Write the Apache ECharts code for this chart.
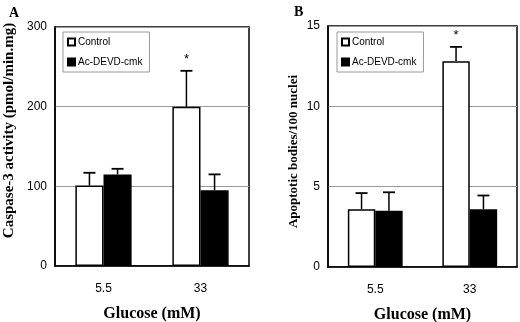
<!DOCTYPE html>
<html>
<head>
<meta charset="utf-8">
<script src="https://cdn.jsdelivr.net/npm/echarts@6/dist/echarts.min.js"></script>
<style>
  html, body { margin: 0; padding: 0; background: #fff; }
  #chart { width: 520px; height: 322px; }
</style>
</head>
<body>
<div id="chart"></div>
<script>
const categories = ['5.5', '33']

// panel A: caspase-3 activity (pmol/min.mg)
const caspaseControl = [101, 200]
const caspaseControlErr = [16, 45]
const caspaseInhib = [115, 95]
const caspaseInhibErr = [7, 20]

// panel B: apoptotic bodies / 100 nuclei
const apoptControl = [3.6, 12.8]
const apoptControlErr = [1.0, 0.9]
const apoptInhib = [3.5, 3.6]
const apoptInhibErr = [1.15, 0.85]

// significance marks over the control bars
const signifA = ['', '*']
const signifB = ['', '*']

const serif = 'Liberation Serif'
const sans = 'Liberation Sans'
const BAR_FRAC = 0.29

function errorSeries(idx, means, errs, side) {
  return {
    type: 'custom',
    xAxisIndex: idx,
    yAxisIndex: idx,
    silent: true,
    z: 1,
    data: means.map((m, i) => [i, m, m + errs[i]]),
    renderItem(params, api) {
      const band = api.size([1, 0])[0]
      const shift = side * band * BAR_FRAC / 2
      const base = api.coord([api.value(0), api.value(1)])
      const top = api.coord([api.value(0), api.value(2)])
      const x = base[0] + shift
      const cap = 6
      return {
        type: 'group',
        children: [
          { type: 'line', shape: { x1: x, y1: base[1], x2: x, y2: top[1] }, style: { stroke: '#000', lineWidth: 1.5 } },
          { type: 'line', shape: { x1: x - cap, y1: top[1], x2: x + cap, y2: top[1] }, style: { stroke: '#000', lineWidth: 1.8 } }
        ]
      }
    }
  }
}

function markSeries(idx, means, errs, marks, side) {
  return {
    type: 'custom',
    xAxisIndex: idx,
    yAxisIndex: idx,
    silent: true,
    data: means.map((m, i) => [i, m + errs[i], marks[i]]),
    renderItem(params, api) {
      const band = api.size([1, 0])[0]
      const shift = side * band * BAR_FRAC / 2
      const p = api.coord([api.value(0), api.value(1)])
      return {
        type: 'text',
        style: {
          text: marks[params.dataIndex],
          x: p[0] + shift,
          y: p[1] - 5,
          align: 'center',
          verticalAlign: 'bottom',
          font: '13px ' + sans,
          fill: '#000'
        }
      }
    }
  }
}

function barSeries(idx, name, data, filled) {
  return {
    name,
    type: 'bar',
    xAxisIndex: idx,
    yAxisIndex: idx,
    data,
    barWidth: (BAR_FRAC * 100) + '%',
    barGap: '0%',
    z: 2,
    itemStyle: {
      color: filled ? '#000' : '#fff',
      borderColor: '#000',
      borderWidth: 1.5
    }
  }
}

function yAxisFor(idx, max, interval, name, size, gap, pad) {
  return {
    type: 'value',
    gridIndex: idx,
    min: 0,
    max,
    interval,
    name,
    nameLocation: 'middle',
    nameGap: gap,
    nameTextStyle: { fontFamily: serif, fontWeight: 'bold', fontSize: size, color: '#000', padding: pad },
    axisLine: { show: true, lineStyle: { color: '#000', width: 1.5 } },
    axisTick: { show: false },
    axisLabel: { color: '#000', fontFamily: sans, fontSize: 12, margin: 8 },
    splitLine: { lineStyle: { color: '#9a9a9a', width: 1 } }
  }
}

function xAxisFor(idx) {
  return {
    type: 'category',
    gridIndex: idx,
    data: categories,
    name: 'Glucose (mM)',
    nameLocation: 'middle',
    nameGap: 40,
    nameTextStyle: { fontFamily: serif, fontWeight: 'bold', fontSize: 16, color: '#000' },
    axisLine: { lineStyle: { color: '#000', width: 1.5 } },
    axisTick: { show: false },
    axisLabel: { color: '#000', fontFamily: sans, fontSize: 12, margin: 17 }
  }
}

function legendAt(left, top) {
  return {
    left,
    top,
    orient: 'vertical',
    data: ['Control', 'Ac-DEVD-cmk'],
    icon: 'rect',
    itemWidth: 7,
    itemHeight: 7,
    itemGap: 10,
    padding: [5, 7, 5, 4],
    borderColor: '#999',
    borderWidth: 1,
    selectedMode: false,
    textStyle: { fontFamily: sans, fontSize: 10, color: '#000', padding: [0, 0, 0, -2] }
  }
}

const chart = echarts.init(document.getElementById('chart'))

chart.setOption({
  animation: false,
  backgroundColor: '#fff',
  title: [
    { text: 'A', left: 4, top: 1, textStyle: { fontFamily: serif, fontWeight: 'bold', fontSize: 14, color: '#000' } },
    { text: 'B', left: 289, top: 0, textStyle: { fontFamily: serif, fontWeight: 'bold', fontSize: 14, color: '#000' } }
  ],
  legend: [legendAt(63, 32), legendAt(337, 32)],
  grid: [
    { left: 55, top: 27, width: 194, height: 239, outerBoundsMode: 'none', show: true, borderColor: '#000', borderWidth: 1.5, backgroundColor: 'transparent' },
    { left: 328, top: 26, width: 189, height: 241, outerBoundsMode: 'none', show: true, borderColor: '#000', borderWidth: 1.5, backgroundColor: 'transparent' }
  ],
  xAxis: [xAxisFor(0), xAxisFor(1)],
  yAxis: [
    yAxisFor(0, 300, 100, 'Caspase-3 activity (pmol/min.mg)', 15, 38, [0, 0, 0, 32]),
    yAxisFor(1, 15, 5, 'Apoptotic bodies/100 nuclei', 13, 28, [0, 10, 0, 0])
  ],
  series: [
    barSeries(0, 'Control', caspaseControl, false),
    barSeries(0, 'Ac-DEVD-cmk', caspaseInhib, true),
    errorSeries(0, caspaseControl, caspaseControlErr, -1),
    errorSeries(0, caspaseInhib, caspaseInhibErr, 1),
    markSeries(0, caspaseControl, caspaseControlErr, signifA, -1),
    barSeries(1, 'Control', apoptControl, false),
    barSeries(1, 'Ac-DEVD-cmk', apoptInhib, true),
    errorSeries(1, apoptControl, apoptControlErr, -1),
    errorSeries(1, apoptInhib, apoptInhibErr, 1),
    markSeries(1, apoptControl, apoptControlErr, signifB, -1)
  ]
})
</script>
</body>
</html>
